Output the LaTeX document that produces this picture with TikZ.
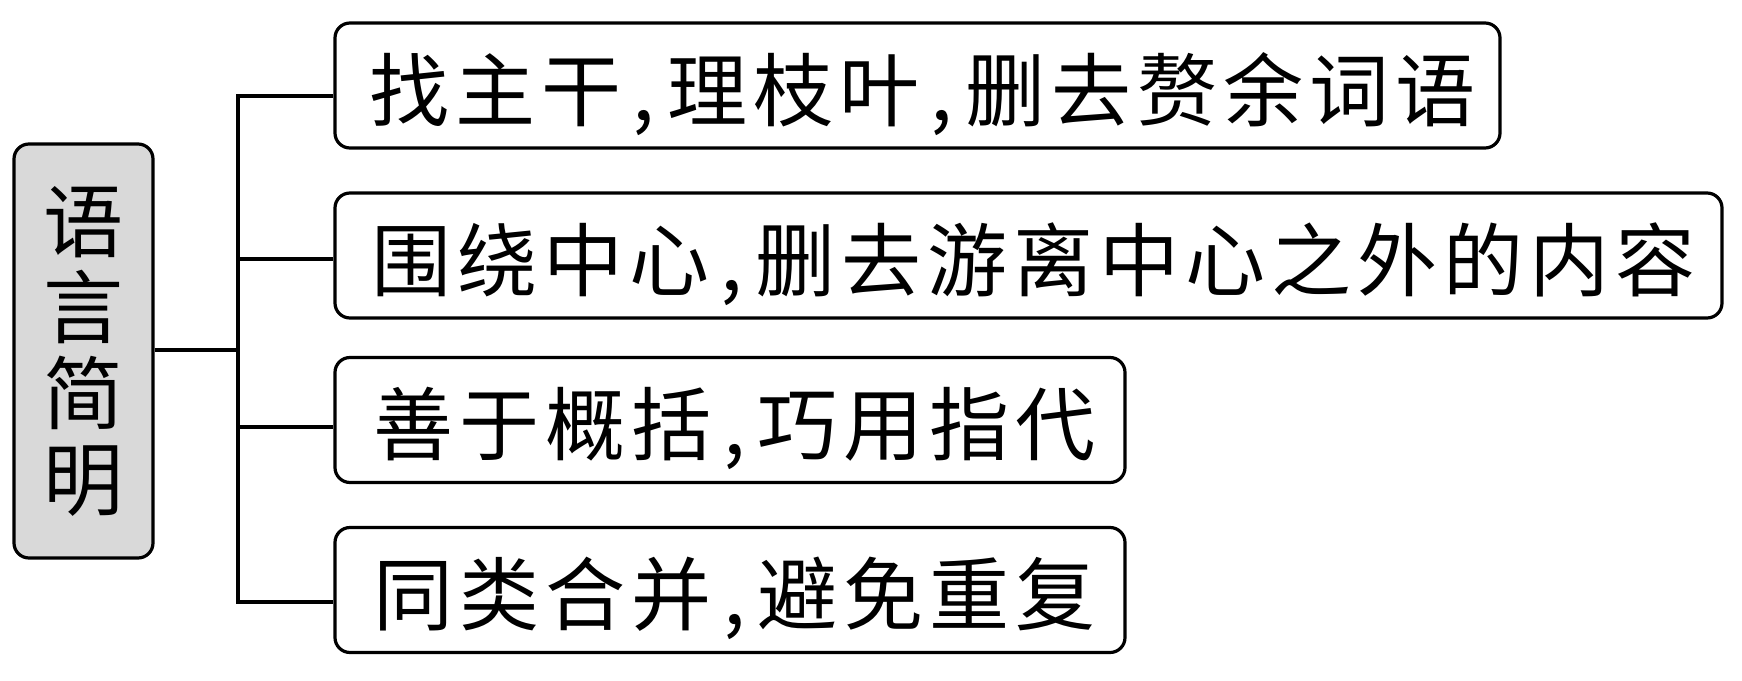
\documentclass[tikz,border=0pt]{standalone}
\usepackage{fontspec}
\setmainfont{Noto Sans CJK SC}
\makeatletter
\newcommand\spc[1]{\spc@loop#1\relax}
\def\spc@loop#1{\ifx\relax#1\else\spc@char{#1}\expandafter\spc@loop\fi}
\def\spc@char#1{\ifx,#1\makebox[40pt]{,}\else\makebox[86pt]{#1}\fi}
\makeatother
\newcommand\leaftxt[1]{\hspace*{9pt}\spc{#1}}
\begin{document}
\begin{tikzpicture}[x=1pt,y=-1pt,
  leaf/.style={draw, line width=3.2pt, rounded corners=15pt, inner sep=0pt,
    minimum height=125pt, text height=71pt, text depth=1.2pt,
    font=\fontsize{80}{86}\selectfont},
  rootbox/.style={draw, line width=3.2pt, rounded corners=15pt, inner sep=0pt,
    fill=black!15, minimum width=139pt, minimum height=414pt, align=center,
    font=\fontsize{80}{86}\selectfont},
  conn/.style={line width=3.2pt}]
\useasboundingbox (0,0) rectangle (1742,680);
\node[rootbox] (root) at (83.5,351) {语\\言\\简\\明};
\node[leaf, minimum width=1165pt] (b1) at (917.5,85.5) {\leaftxt{找主干,理枝叶,删去赘余词语}};
\node[leaf, minimum width=1387pt] (b2) at (1028.5,255.5) {\leaftxt{围绕中心,删去游离中心之外的内容}};
\node[leaf, minimum width=790pt] (b3) at (730,420) {\leaftxt{善于概括,巧用指代}};
\node[leaf, minimum width=790pt] (b4) at (730,590) {\leaftxt{同类合并,避免重复}};
\coordinate (j0) at (238,350);
\coordinate (j1) at (238,96);
\coordinate (j2) at (238,259);
\coordinate (j3) at (238,427);
\coordinate (j4) at (238,602);
\draw[conn] (root.east |- j0) -- (j0);
\draw[conn] (b1.west |- j1) -- (j1) -- (j4) -- (b4.west |- j4);
\draw[conn] (j2) -- (b2.west |- j2);
\draw[conn] (j3) -- (b3.west |- j3);
\end{tikzpicture}
\end{document}
